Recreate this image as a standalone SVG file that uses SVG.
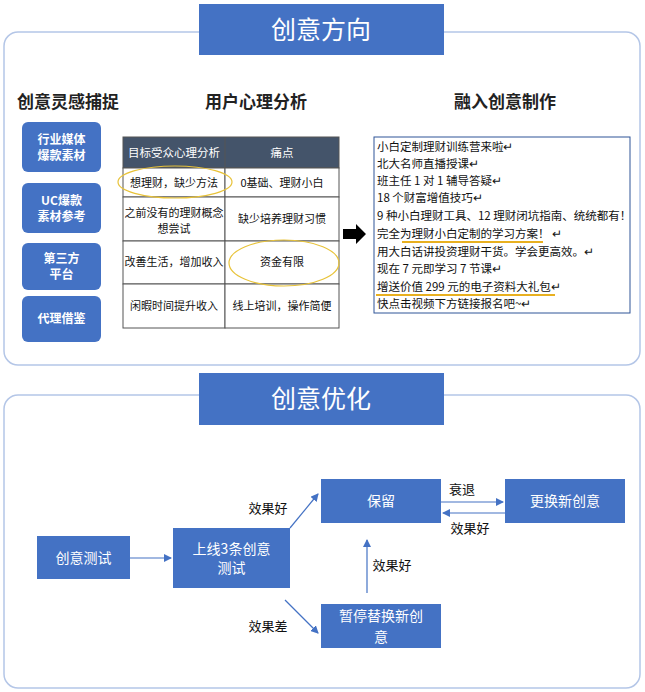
<svg xmlns="http://www.w3.org/2000/svg" width="645" height="692" viewBox="0 0 645 692">
<style>
text{font-family:"Noto Sans CJK SC","Liberation Sans",sans-serif;}
.panel{fill:#fff;stroke:#b4c6e7;stroke-width:1.5}
.banner{fill:#4472c4}
.bt{fill:#fff;font-size:25px;text-anchor:middle}
.h{font-size:17px;font-weight:bold;fill:#222;text-anchor:middle}
.lb{fill:#4472c4}
.lt{fill:#fff;font-size:12px;font-weight:bold;text-anchor:middle}
.cell{fill:#fff;stroke:#555;stroke-width:1}
.ct{font-size:11px;fill:#111;text-anchor:middle}
.tt{font-size:11.5px;fill:#111}
.n{fill:#4472c4}
.nt{fill:#fff;font-size:14px;text-anchor:middle}
.c{stroke:#4472c4;stroke-width:1.2;fill:none;marker-end:url(#ah)}
.cl{font-size:13px;fill:#111;text-anchor:middle}
</style>
<defs><marker id="ah" markerWidth="8" markerHeight="8" refX="7" refY="4" orient="auto" markerUnits="userSpaceOnUse"><path d="M0,0 L8,4 L0,8 z" fill="#4472c4"/></marker></defs>
<rect width="645" height="692" fill="#fff"/>
<g id="panel1"><rect class="panel" x="4" y="32" width="636" height="333" rx="14"/></g>
<g id="banner1"><rect class="banner" x="199" y="4" width="245" height="51"/><text class="bt" x="321" y="39">创意方向</text></g>
<g id="headings"><text class="h" x="68" y="108">创意灵感捕捉</text><text class="h" x="256" y="108">用户心理分析</text><text class="h" x="505" y="108">融入创意制作</text></g>
<g id="src1"><rect class="lb" x="22" y="122" width="79" height="50" rx="6"/><text class="lt" x="61.5" y="144">行业媒体</text><text class="lt" x="61.5" y="160">爆款素材</text></g>
<g id="src2"><rect class="lb" x="22" y="183" width="79" height="50" rx="6"/><text class="lt" x="61.5" y="205">UC爆款</text><text class="lt" x="61.5" y="221">素材参考</text></g>
<g id="src3"><rect class="lb" x="22" y="243" width="79" height="47" rx="6"/><text class="lt" x="61.5" y="263">第三方</text><text class="lt" x="61.5" y="279">平台</text></g>
<g id="src4"><rect class="lb" x="22" y="296" width="79" height="46" rx="6"/><text class="lt" x="61.5" y="323">代理借鉴</text></g>
<g id="table">
<rect x="123" y="137" width="216" height="31" fill="#44546a" stroke="#555"/>
<line x1="225" y1="137" x2="225" y2="168" stroke="#555"/>
<text x="174" y="157" font-size="11.5" fill="#fff" text-anchor="middle">目标受众心理分析</text>
<text x="282" y="157" font-size="11.5" fill="#fff" text-anchor="middle">痛点</text>
<rect class="cell" x="123" y="168" width="102" height="29"/><rect class="cell" x="225" y="168" width="114" height="29"/>
<rect class="cell" x="123" y="197" width="102" height="44"/><rect class="cell" x="225" y="197" width="114" height="44"/>
<rect class="cell" x="123" y="241" width="102" height="43"/><rect class="cell" x="225" y="241" width="114" height="43"/>
<rect class="cell" x="123" y="284" width="102" height="44"/><rect class="cell" x="225" y="284" width="114" height="44"/>
<text class="ct" x="174" y="187">想理财，缺少方法</text><text class="ct" x="282" y="187">0基础、理财小白</text>
<text class="ct" x="174" y="217">之前没有的理财概念</text><text class="ct" x="174" y="233">想尝试</text><text class="ct" x="282" y="223">缺少培养理财习惯</text>
<text class="ct" x="174" y="266">改善生活，增加收入</text><text class="ct" x="282" y="266">资金有限</text>
<text class="ct" x="174" y="310">闲暇时间提升收入</text><text class="ct" x="282" y="310">线上培训，操作简便</text>
<ellipse cx="175" cy="182" rx="57" ry="16" fill="none" stroke="#e8c33a" stroke-width="1.2"/>
<ellipse cx="284" cy="263" rx="55" ry="23" fill="none" stroke="#e8c33a" stroke-width="1.2"/>
</g>
<g id="bigarrow"><path d="M343,229 L356,229 L356,224 L366,234 L356,244 L356,239 L343,239 z" fill="#000"/></g>
<g id="copybox">
<rect x="374" y="137" width="256" height="176" fill="#fff" stroke="#2f5597" stroke-width="1"/>
<text class="tt" x="377" y="151">小白定制理财训练营来啦↵</text>
<text class="tt" x="377" y="168">北大名师直播授课↵</text>
<text class="tt" x="377" y="185">班主任 1 对 1 辅导答疑↵</text>
<text class="tt" x="377" y="202">18 个财富增值技巧↵</text>
<text class="tt" x="377" y="220">9 种小白理财工具、12 理财闭坑指南、统统都有！</text>
<text class="tt" x="377" y="238">完全为理财小白定制的学习方案！ ↵</text>
<text class="tt" x="377" y="256">用大白话讲投资理财干货。学会更高效。↵</text>
<text class="tt" x="377" y="273">现在 7 元即学习 7 节课↵</text>
<text class="tt" x="377" y="291">增送价值 299 元的电子资料大礼包↵</text>
<text class="tt" x="377" y="308">快点击视频下方链接报名吧~↵</text>
<line x1="402" y1="242" x2="543" y2="242" stroke="#e8b020" stroke-width="2"/>
<line x1="376" y1="295" x2="555" y2="295" stroke="#e8b020" stroke-width="2"/>
</g>
<g id="panel2"><rect class="panel" x="4" y="395" width="636" height="293" rx="14"/></g>
<g id="banner2"><rect class="banner" x="199" y="373" width="245" height="52"/><text class="bt" x="321" y="408">创意优化</text></g>
<g id="connectors">
<line class="c" x1="130" y1="558" x2="171" y2="558"/>
<line class="c" x1="290" y1="528" x2="318" y2="494"/>
<line class="c" x1="285" y1="600" x2="318" y2="633"/>
<line class="c" x1="367" y1="593" x2="367" y2="540"/>
<line class="c" x1="441" y1="502" x2="503" y2="502"/>
<line class="c" x1="505" y1="513" x2="443" y2="513"/>
</g>
<g id="labels">
<text class="cl" x="268" y="513">效果好</text>
<text class="cl" x="268" y="631">效果差</text>
<text class="cl" x="392" y="570">效果好</text>
<text class="cl" x="462" y="494">衰退</text>
<text class="cl" x="470" y="533">效果好</text>
</g>
<g id="n1"><rect class="n" x="37" y="536" width="93" height="43"/><text class="nt" x="83.5" y="563">创意测试</text></g>
<g id="n2"><rect class="n" x="173" y="528" width="117" height="60"/><text class="nt" x="231.5" y="554">上线3条创意</text><text class="nt" x="231.5" y="573">测试</text></g>
<g id="n3"><rect class="n" x="321" y="479" width="120" height="44"/><text class="nt" x="381" y="506">保留</text></g>
<g id="n4"><rect class="n" x="505" y="479" width="120" height="44"/><text class="nt" x="565" y="506">更换新创意</text></g>
<g id="n5"><rect class="n" x="321" y="604" width="120" height="44"/><text class="nt" x="381" y="621">暂停替换新创</text><text class="nt" x="381" y="642">意</text></g>
</svg>
